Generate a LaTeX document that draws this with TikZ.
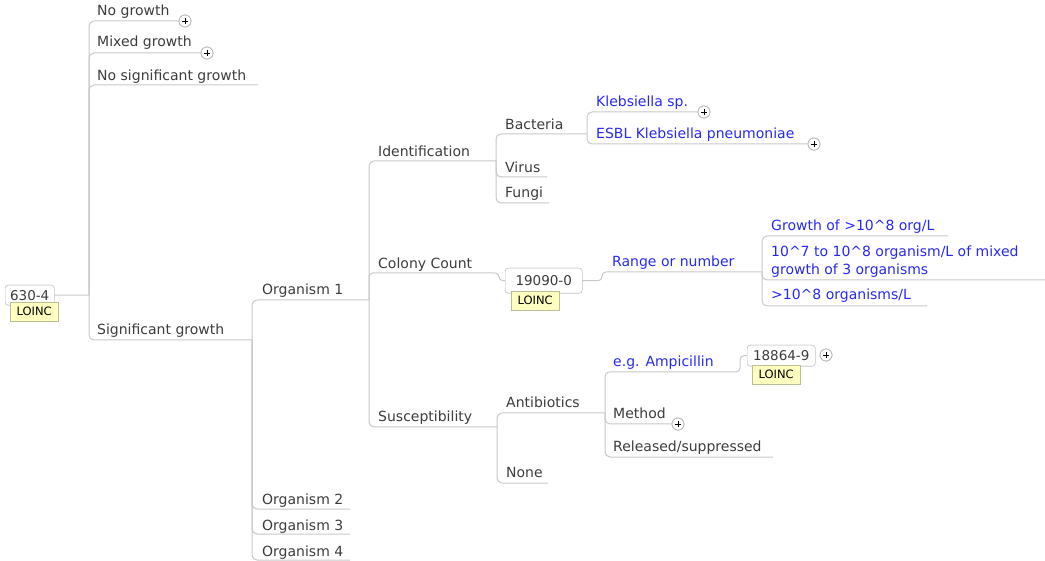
\documentclass[tikz,border=0pt]{standalone}
\usepackage{fontspec}
\setmainfont{DejaVu Sans}
\definecolor{conngray}{RGB}{200,200,200}
\definecolor{txtgray}{RGB}{60,60,60}
\definecolor{blueT}{RGB}{40,40,245}
\definecolor{boxgray}{RGB}{185,185,185}
\definecolor{loincfill}{RGB}{255,255,192}
\definecolor{loincdraw}{RGB}{190,190,150}
\newcommand\tfont{\fontsize{14}{17.4}\selectfont}
\begin{document}
\begin{tikzpicture}[x=1pt,y=-1pt,
 conn/.style={draw=conngray, line width=1, rounded corners=5},
 topic/.style={font=\tfont, text=txtgray, anchor=base west, inner sep=0},
 btopic/.style={topic, text=blueT},
 codebox/.style={draw=boxgray, fill=white, rounded corners=3, font=\fontsize{13.5}{13.5}\selectfont, text=txtgray, inner sep=0, anchor=north west},
 loinc/.style={draw=loincdraw, fill=loincfill, font=\fontsize{11.5}{11.5}\selectfont, text=black, inner sep=0, anchor=north west, minimum height=19, minimum width=48},
 plus/.style={circle, draw=boxgray, fill=white, minimum size=12, inner sep=0, line width=0.8,
   path picture={\draw[black, line width=0.9] ([xshift=-3.2pt]path picture bounding box.center) -- ([xshift=3.2pt]path picture bounding box.center);
                 \draw[black, line width=0.9] ([yshift=-3.2pt]path picture bounding box.center) -- ([yshift=3.2pt]path picture bounding box.center);}}]
\useasboundingbox (0,0) rectangle (1045,561);

% ---------- coordinates (junctions and underline ends) ----------
\coordinate (j0) at (89,295);
\coordinate (u_nsg) at (258,85);
\coordinate (j1) at (252,340);
\coordinate (j2) at (369,300);
\coordinate (u_o2) at (350,509);
\coordinate (u_o3) at (350,534);
\coordinate (u_o4) at (350,560);
\coordinate (j_id) at (496,161);
\coordinate (j_su) at (497,427);
\coordinate (j_ba) at (587,134);
\coordinate (u_vi) at (547,177);
\coordinate (u_fu) at (549,203);
\coordinate (j_rn) at (762,272);
\coordinate (u_g8) at (948,236);
\coordinate (u_mix) at (1045,280);
\coordinate (u_o8) at (927,306);
\coordinate (j_ab) at (605,413);
\coordinate (u_no) at (548,483);
\coordinate (u_rs) at (773,457);

% ---------- boxes and plus markers (named, used as connector ends) ----------
\node[codebox, minimum width=49, minimum height=20] (root) at (5,285) {630-4};
\node[codebox, minimum width=77, minimum height=25] (cb) at (505,268) {19090-0};
\node[codebox, minimum width=68, minimum height=21] (abx) at (747,345) {18864-9};
\node[plus] (pl_ng) at (185,21) {};
\node[plus] (pl_mg) at (207,53) {};
\node[plus] (pl_ks) at (704,112) {};
\node[plus] (pl_esbl) at (814,144) {};
\node[plus] (pl_me) at (678,424) {};
\node[plus] (pl_ab) at (826,355) {};

% ---------- connectors ----------
\draw[conn] (root.east) -- (j0);
\draw[conn] (j0) |- (pl_ng.west);
\draw[conn] (j0) |- (pl_mg.west);
\draw[conn] (j0) |- (u_nsg);
\draw[conn] (j0) |- (j1);
\draw[conn] (j1) |- (j2);
\draw[conn] (j1) |- (u_o2);
\draw[conn] (j1) |- (u_o3);
\draw[conn] (j1) |- (u_o4);
\draw[conn] (j2) |- (j_id);
\draw[conn] (j2) |- (j_su);
\draw[conn, rounded corners=4] (j2) |- (499,273) |- (cb.west);
\draw[conn] (j_id) |- (j_ba);
\draw[conn] (j_id) |- (u_vi);
\draw[conn] (j_id) |- (u_fu);
\draw[conn] (j_ba) |- (pl_ks.west);
\draw[conn] (j_ba) |- (pl_esbl.west);
\draw[conn, rounded corners=4] (cb.east) -| (602,272) -- (j_rn);
\draw[conn] (j_rn) |- (u_g8);
\draw[conn] (j_rn) |- (u_mix);
\draw[conn] (j_rn) |- (u_o8);
\draw[conn] (j_su) |- (j_ab);
\draw[conn] (j_su) |- (u_no);
\draw[conn, rounded corners=4] (j_ab) |- (740,372) |- (abx.west);
\draw[conn] (j_ab) |- (pl_me.west);
\draw[conn] (j_ab) |- (u_rs);

% redraw boxes and markers on top of connectors
\node[codebox, minimum width=49, minimum height=20] at (5,285) {630-4};
\node[codebox, minimum width=77, minimum height=25] at (505,268) {19090-0};
\node[codebox, minimum width=68, minimum height=21] at (747,345) {18864-9};
\node[loinc] (lo_root) at (10,302) {LOINC};
\node[loinc] (lo_cc) at (511,291) {LOINC};
\node[loinc] (lo_ab) at (752,365) {LOINC};
\node[plus] at (185,21) {};
\node[plus] at (207,53) {};
\node[plus] at (704,112) {};
\node[plus] at (814,144) {};
\node[plus] at (678,424) {};
\node[plus] at (826,355) {};

% ---------- topic texts ----------
\node[topic] (n_ng) at (97,16) {No growth};
\node[topic] (n_mg) at (97,47) {Mixed growth};
\node[topic] (n_nsg) at (97,81) {No significant growth};
\node[topic] (n_sg) at (97,335) {Significant growth};
\node[topic] (n_o1) at (262,295) {Organism 1};
\node[topic] (n_o2) at (262,504) {Organism 2};
\node[topic] (n_o3) at (262,530) {Organism 3};
\node[topic] (n_o4) at (262,556) {Organism 4};
\node[topic] (n_id) at (378,157) {Identification};
\node[topic] (n_cc) at (378,269) {Colony Count};
\node[topic] (n_su) at (378,422) {Susceptibility};
\node[topic] (n_ba) at (505,130) {Bacteria};
\node[topic] (n_vi) at (505,173) {Virus};
\node[topic] (n_fu) at (505,198) {Fungi};
\node[btopic] (n_ks) at (596,107) {Klebsiella sp.};
\node[btopic] (n_esbl) at (596,139) {ESBL Klebsiella pneumoniae};
\node[btopic] (n_rn) at (612,267) {Range or number};
\node[btopic] (n_g8) at (771,231) {Growth of >10\textasciicircum 8 org/L};
\node[btopic] (n_mix) at (771,257) {\begin{tabular}[t]{@{}l@{}}10\textasciicircum 7 to 10\textasciicircum 8 organism/L of mixed\\growth of 3 organisms\end{tabular}};
\node[btopic] (n_o8) at (771,300) {>10\textasciicircum 8 organisms/L};
\node[topic] (n_ab) at (506,408) {Antibiotics};
\node[topic] (n_no) at (506,478) {None};
\node[btopic] (n_amp) at (613,367) {e.g. Ampicillin};
\node[topic] (n_me) at (613,419) {Method};
\node[topic] (n_rs) at (613,452) {Released/suppressed};
\end{tikzpicture}
\end{document}
